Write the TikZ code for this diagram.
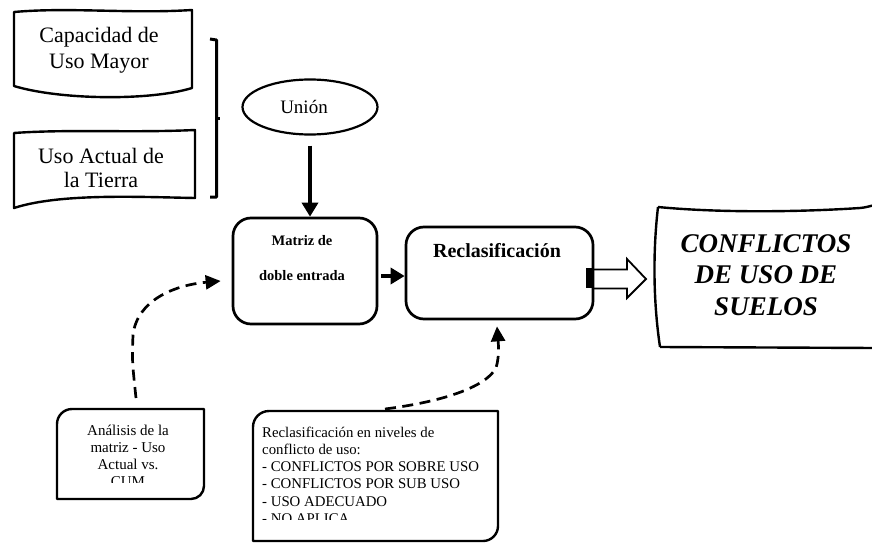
\documentclass[tikz,border=0pt]{standalone}
\usepackage{fontspec}
\setmainfont{Liberation Serif}
\usetikzlibrary{shapes.geometric,arrows.meta}
\newcommand{\mycenterlines}[2]{\vtop{\baselineskip=#1\relax\lineskiplimit=-100pt\lineskip=0pt\halign{\hfil##\hfil\cr #2\crcr}}}
\newcommand{\myleftlines}[2]{\vtop{\baselineskip=#1\relax\lineskiplimit=-100pt\lineskip=0pt\halign{##\hfil\cr #2\crcr}}}
\tikzset{
  shapeline/.style={line width=2.4pt, line join=round},
  roundbox/.style={draw, line width=2.7pt, rounded corners=18pt, inner sep=0pt},
  txt/.style={inner sep=0pt, anchor=base},
  thickarrow/.style={line width=3.4pt, -{Triangle[length=14pt,width=16pt]}},
  dasharrow/.style={line width=2.7pt, dash pattern=on 11pt off 6.5pt, -{Triangle[length=15pt,width=14pt]}},
}
\begin{document}
\begin{tikzpicture}[x=1pt,y=-1pt]
\useasboundingbox (0,0) rectangle (872,543);
\begin{scope}
\clip (0,0) rectangle (872,543);
% Capacidad de Uso Mayor
\draw[shapeline] (14,12) .. controls (70,7) and (130,14) .. (192,10)
  -- (192,88) .. controls (150,101) and (60,100) .. (14,86) -- cycle;
\node[txt] (cum) at (99,42) {\fontsize{22}{26}\selectfont\mycenterlines{26pt}{Capacidad de\cr Uso Mayor}};
% Uso Actual de la Tierra
\draw[shapeline] (14,133) .. controls (70,129) and (130,133) .. (195,130)
  -- (195,198) .. controls (140,197) and (60,193) .. (14,208) -- cycle;
\node[txt] (uat) at (101,163) {\fontsize{22}{24}\selectfont\mycenterlines{24pt}{Uso Actual de\cr la Tierra}};
% bracket
\draw[line width=3pt, line join=round] (210,39) -- (216.5,40) -- (216.5,197) -- (210,197);
\draw[line width=3pt] (216.5,118) -- (219.5,118);
% Union
\node[draw, ellipse, line width=2.2pt, minimum width=135pt, minimum height=55pt, inner sep=0pt] (union) at (310,107) {};
\node[txt] (uniontxt) at (304,113) {\fontsize{19}{22}\selectfont Unión};
% Matriz
\node[roundbox, minimum width=144pt, minimum height=106pt] (matriz) at (305,271) {};
\node[txt] (matriztxt) at (302,245) {\fontsize{14.5}{35}\selectfont\bfseries\mycenterlines{35pt}{Matriz de\cr doble entrada}};
% Reclasificacion
\node[roundbox, minimum width=187pt, minimum height=92pt] (reclas) at (499.5,273) {};
\node[txt] (reclastxt) at (497,257) {\fontsize{20}{24}\selectfont\bfseries Reclasificación};
% arrows
\draw[thickarrow] ([yshift=-10pt]union.south) -- (union.south |- matriz.north);
\coordinate (a1) at (381,276);
\draw[thickarrow] (a1) -- (a1 -| reclas.west);
% black tab and block arrow
\fill (586,268) rectangle (593.5,288);
\coordinate (ba) at (593,279);
\draw[line width=1.8pt, line join=miter] (ba) ++(0,-9.5) -- ++(34,0) -- ++(0,-10.5) -- (646,279) -- (627,298) -- (627,288.5) -- (593,288.5);
% CONFLICTOS
\draw[shapeline] (658,207) .. controls (720,213) and (800,212) .. (860,208) .. controls (866,207.5) and (870,206) .. (875,205)
  (660,347) -- (875,348)
  (658,207) .. controls (653,250) and (653,300) .. (660,347);
\node[txt] (conf) at (766,252) {\fontsize{27}{31.5}\selectfont\bfseries\itshape\mycenterlines{31.5pt}{CONFLICTOS\cr DE USO DE\cr SUELOS}};
% Analisis box
\draw[shapeline] (204,409) -- (204,486) arc[start angle=0,end angle=90,radius=13] -- (57,499) -- (57,424) arc[start angle=180,end angle=270,radius=15] -- cycle;
\coordinate (ana) at (136,409);
\begin{scope}
\clip (57,409) rectangle (204,482);
\node[txt] (anatxt) at (128,435) {\fontsize{15}{17}\selectfont\mycenterlines{17pt}{Análisis de la\cr matriz - Uso\cr Actual vs.\cr CUM}};
\end{scope}
% Reclasificacion niveles box
\draw[shapeline] (498,411) -- (498,526) arc[start angle=0,end angle=90,radius=15] -- (253,541) -- (253,427) arc[start angle=180,end angle=270,radius=16] -- cycle;
\coordinate (niv) at (385,409);
\begin{scope}
\clip (253,411) rectangle (498,519);
\node[txt, anchor=base west] (nivtxt) at (262,437) {\fontsize{14.8}{17.2}\selectfont\myleftlines{17.3pt}{Reclasificación en niveles de\cr conflicto de uso:\cr - CONFLICTOS POR SOBRE USO\cr - CONFLICTOS POR SUB USO\cr - USO ADECUADO\cr - NO APLICA}};
\end{scope}
% dashed connectors
\coordinate (t1) at ([xshift=-11pt,yshift=-10pt]matriz.west);
\draw[dasharrow] ([yshift=11pt]ana) .. controls (132,360) .. (133,335) .. controls (137,300) and (175,285) .. (t1);
\coordinate (t2) at ([xshift=-2.5pt,yshift=-6pt]reclas.south);
\draw[dasharrow] (niv) .. controls (440,402) and (485,388) .. (496,368) .. controls (500,355) and (498,340) .. (t2);
\end{scope}
\end{tikzpicture}
\end{document}
